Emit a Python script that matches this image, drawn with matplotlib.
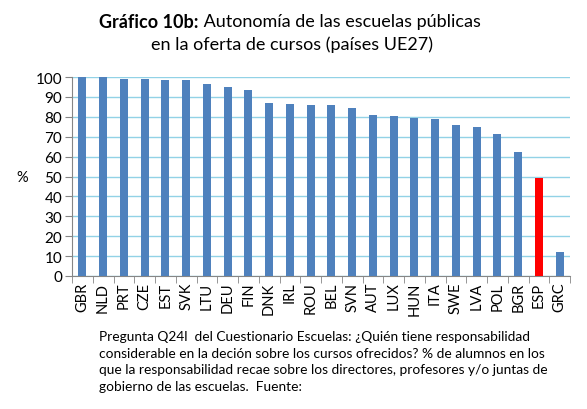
import numpy as np
import matplotlib.pyplot as plt

plt.rcParams['font.family'] = ['Lato', 'DejaVu Sans']

paises = ['GBR', 'NLD', 'PRT', 'CZE', 'EST', 'SVK', 'LTU', 'DEU', 'FIN', 'DNK',
          'IRL', 'ROU', 'BEL', 'SVN', 'AUT', 'LUX', 'HUN', 'ITA', 'SWE', 'LVA',
          'POL', 'BGR', 'ESP', 'GRC']
valores = [100.0, 100.0, 99.2, 99.2, 98.7, 98.7, 96.7, 95.2, 93.7, 86.7,
           86.2, 85.7, 85.7, 84.2, 80.7, 80.2, 79.2, 78.7, 75.7, 74.7,
           71.2, 62.2, 49.2, 12.3]
destacado = 'ESP'

azul = '#4f81bd'
rojo = '#ff0000'
colores = [rojo if p == destacado else azul for p in paises]

fig = plt.figure(figsize=(5.87, 4.10), dpi=100)
ax = fig.add_axes([72/587, 1 - 277/410, 498/587, 199/410])

x = np.arange(len(paises))
ax.bar(x, valores, width=0.38, color=colores, zorder=3)

ax.set_xlim(-0.5, len(paises) - 0.5)
ax.set_ylim(0, 100)
ax.set_yticks(np.arange(0, 101, 10))
ax.yaxis.grid(True, color='#92d2e6', linewidth=1, zorder=0)
ax.set_xticks(x)
ax.set_xticklabels(paises, rotation=90, fontsize=10.5)
ax.set_xticks(np.arange(-0.5, len(paises), 1), minor=True)
ax.tick_params(axis='x', which='major', length=0, pad=4)
ax.tick_params(axis='x', which='minor', length=5, color='#868686')
ax.tick_params(axis='y', length=5, color='#868686', labelsize=11, pad=2)

for s in ['top', 'right']:
    ax.spines[s].set_visible(False)
for s in ['left', 'bottom']:
    ax.spines[s].set_color('#868686')

fig.text(22/587, 1 - 178/410, '%', fontsize=10.5, ha='center', va='center')

# titulo: parte en negrita + resto
fig.canvas.draw()
r = fig.canvas.get_renderer()
t_b = fig.text(0, 1 - 22/410, 'Gráfico 10b:', fontsize=13, weight='bold', va='center')
t_r = fig.text(0, 1 - 22/410, ' Autonomía de las escuelas públicas', fontsize=13, va='center')
wb = t_b.get_window_extent(r).width
wr = t_r.get_window_extent(r).width
x0 = 290 - (wb + wr) / 2
t_b.set_x(x0 / 587)
t_r.set_x((x0 + wb) / 587)
fig.text(292/587, 1 - 45/410, 'en la oferta de cursos (países UE27)', fontsize=13,
         ha='center', va='center')

nota = ['Pregunta Q24l  del Cuestionario Escuelas: ¿Quién tiene responsabilidad',
        'considerable en la deción sobre los cursos ofrecidos? % de alumnos en los',
        'que la responsabilidad recae sobre los directores, profesores y/o juntas de',
        'gobierno de las escuelas.  Fuente:']
for i, linea in enumerate(nota):
    fig.text(99/587, 1 - (337 + 16.7 * i)/410, linea, fontsize=9.9, va='center')

fig.savefig('out.png', dpi=100)
